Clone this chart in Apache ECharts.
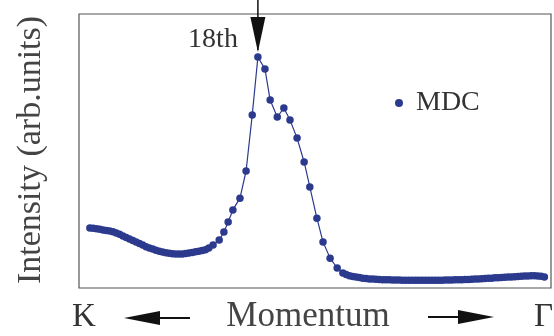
<!DOCTYPE html>
<html>
<head>
<meta charset="utf-8">
<script src="https://cdn.jsdelivr.net/npm/echarts@6/dist/echarts.min.js"></script>
<style>html,body{margin:0;padding:0;background:#fff;}#c{width:554px;height:336px;}</style>
</head>
<body>
<div id="c"></div>
<script>
// Momentum (arb. units, 0..100 across the frame) and MDC intensity (arb. units)
var momentum = [
  2.3,3.0,3.7,4.4,5.1,5.8,6.5,7.2,7.9,8.6,9.3,10.0,10.7,11.4,12.1,12.8,13.5,14.2,14.9,15.6,16.3,17.0,17.7,18.4,19.1,19.8,20.5,21.2,21.9,22.6,23.3,24.0,24.7,25.4,26.1,26.8,27.5,28.4,
  29.7,30.7,31.6,32.6,34.1,35.4,36.7,37.9,39.4,40.5,42.0,43.4,44.7,46.2,47.7,48.9,50.4,51.7,53.2,54.7,
  55.9,56.6,57.3,58.0,58.7,59.4,60.1,60.8,61.5,62.2,62.9,63.6,64.3,65.0,65.7,66.4,67.1,67.8,68.5,69.2,69.9,70.6,71.3,72.0,72.7,73.4,74.1,74.8,75.5,76.2,76.9,77.6,78.3,79.0,79.7,80.4,81.1,81.8,82.5,83.2,83.9,84.6,85.3,86.0,86.7,87.4,88.1,88.8,89.5,90.2,90.9,91.6,92.3,93.0,93.7,94.4,95.1,95.8,96.5,97.2,97.9,98.6
];
var intensity = [
  21.9,21.8,21.6,21.4,21.2,21.0,20.8,20.5,20.1,19.6,19.0,18.4,17.9,17.3,16.8,16.2,15.7,15.1,14.6,14.2,13.8,13.4,13.1,12.9,12.7,12.5,12.4,12.4,12.4,12.6,12.8,13.0,13.2,13.4,13.7,14.0,14.6,15.7,
  17.5,20.4,24.1,28.5,32.8,42.7,63.1,84.3,79.9,68.6,62.4,65.7,61.3,54.7,46.0,36.9,25.5,16.8,10.9,7.3,
  5.5,4.9,4.5,4.2,4.0,3.8,3.6,3.5,3.3,3.3,3.2,3.1,3.0,3.0,3.0,2.9,2.9,2.9,2.8,2.8,2.8,2.8,2.8,2.8,2.8,2.8,2.8,2.8,2.8,2.8,2.8,2.9,2.9,2.9,3.0,3.0,3.0,3.1,3.1,3.2,3.3,3.3,3.4,3.5,3.6,3.6,3.7,3.7,3.8,3.9,4.0,4.0,4.1,4.2,4.3,4.4,4.4,4.5,4.5,4.4,4.3,4.0
];
var seriesName = 'MDC';
var peakLabel = '18th';
var peakIndex = 45;
var xLeftLabel = 'K', xMidLabel = 'Momentum', xRightLabel = '\u0393';
var yLabel = 'Intensity (arb.units)';

var data = momentum.map(function (m, i) { return [m, intensity[i]]; });
var serif = '"Liberation Serif","DejaVu Serif",serif';
var blue = '#2c3a8e';

var chart = echarts.init(document.getElementById('c'));
chart.setOption({
  animation: false,
  grid: { left: 79, top: 14, right: 3, bottom: 48, show: true, borderColor: '#555', borderWidth: 1.2, backgroundColor: '#fff' },
  xAxis: { type: 'value', min: 0, max: 100, axisLine: { show: false }, axisTick: { show: false }, axisLabel: { show: false }, splitLine: { show: false } },
  yAxis: { type: 'value', min: 0, max: 100, axisLine: { show: false }, axisTick: { show: false }, axisLabel: { show: false }, splitLine: { show: false } },
  legend: {
    left: 390, top: 84, icon: 'circle', itemWidth: 8, itemHeight: 8,
    textStyle: { fontFamily: serif, fontSize: 28, color: '#333', padding: [0, 0, 0, 8] },
    data: [seriesName]
  },
  series: [{
    name: seriesName, type: 'line', data: data,
    symbol: 'circle', symbolSize: 7.5, showSymbol: true,
    lineStyle: { color: blue, width: 1.2 },
    itemStyle: { color: blue }
  }]
});

var px = chart.convertToPixel({ gridIndex: 0 }, data[peakIndex]);
var ax = px[0];
chart.setOption({
  graphic: [
    { type: 'line', shape: { x1: ax, y1: 0, x2: ax, y2: 50 }, style: { stroke: '#111', lineWidth: 1.5 } },
    { type: 'polygon', shape: { points: [[ax - 7.5, 17], [ax + 7.5, 17], [ax, 52]] }, style: { fill: '#111' } },
    { type: 'text', x: ax - 20, y: 40, style: { text: peakLabel, font: '28px ' + serif, fill: '#333', align: 'right', verticalAlign: 'middle' } },
    { type: 'text', x: 31, y: 150, rotation: Math.PI / 2, style: { text: yLabel, font: '34px ' + serif, fill: '#444', align: 'center', verticalAlign: 'middle' } },
    { type: 'text', x: 72, y: 317, style: { text: xLeftLabel, font: '33px ' + serif, fill: '#333', align: 'left', verticalAlign: 'middle' } },
    { type: 'text', x: 308, y: 317, style: { text: xMidLabel, font: '35px ' + serif, fill: '#444', align: 'center', verticalAlign: 'middle' } },
    { type: 'text', x: 534, y: 317, style: { text: xRightLabel, font: '33px ' + serif, fill: '#333', align: 'left', verticalAlign: 'middle' } },
    { type: 'line', shape: { x1: 150, y1: 318, x2: 190, y2: 318 }, style: { stroke: '#111', lineWidth: 2 } },
    { type: 'polygon', shape: { points: [[124, 318], [160, 311], [160, 325]] }, style: { fill: '#111' } },
    { type: 'line', shape: { x1: 428, y1: 317, x2: 465, y2: 317 }, style: { stroke: '#111', lineWidth: 2 } },
    { type: 'polygon', shape: { points: [[494, 317], [458, 310], [458, 324]] }, style: { fill: '#111' } }
  ]
});
</script>
</body>
</html>
